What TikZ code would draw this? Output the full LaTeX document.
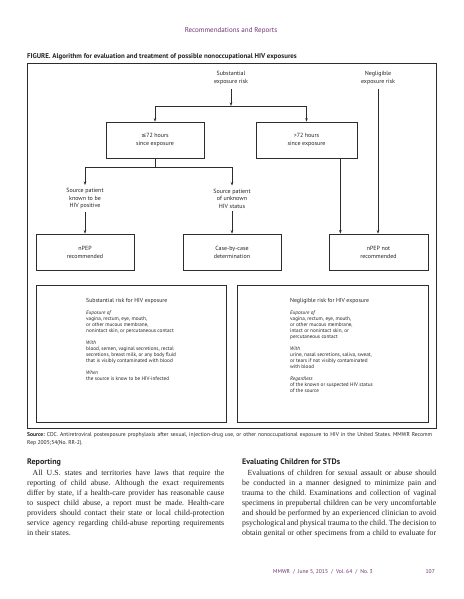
\documentclass[tikz,border=0pt]{standalone}
\usepackage{fontspec}
\setmainfont{Liberation Serif}
\newfontfamily\dsans{PT Sans}
\newfontfamily\djv{DejaVu Sans}
\usetikzlibrary{arrows.meta}
\definecolor{hdr}{RGB}{112,52,112}
\definecolor{ink}{RGB}{35,35,35}
\definecolor{lnc}{RGB}{45,45,45}
\frenchspacing
\begin{document}
\begin{tikzpicture}[x=1pt,y=-1pt,
  every node/.style={inner sep=0pt, text=ink},
  lbl/.style={font=\dsans\fontsize{6}{8}\selectfont, align=center, inner sep=2pt},
  srcp/.style={font=\dsans\fontsize{6}{7.5}\selectfont, align=center, inner sep=3pt},
  boxst/.style={draw=lnc, line width=0.7pt, minimum width=98pt, minimum height=36pt,
    font=\dsans\fontsize{6}{8}\selectfont, align=center},
  bigbox/.style={draw=lnc, line width=0.7pt},
  frm/.style={draw=lnc, line width=0.9pt},
  btext/.style={font=\dsans\fontsize{5.2}{6}\selectfont, align=left, anchor=north west},
  arr/.style={draw=lnc, line width=0.6pt, -{Stealth[length=3.6pt,width=2.6pt]}},
  ln/.style={draw=lnc, line width=0.6pt},
  body/.style={font=\fontsize{7.8}{10}\selectfont, anchor=north west, align=left},
  head/.style={font=\dsans\bfseries\fontsize{8}{10}\selectfont, anchor=base west}
]
\useasboundingbox (0,0) rectangle (463,599);
\fill[white] (0,0) rectangle (463,599);

% page header
\node[anchor=base, text=hdr, font=\dsans\fontsize{7}{8}\selectfont] (hd) at (231,32.5) {Recommendations and Reports};
\node[anchor=base west, font=\dsans\bfseries\fontsize{6.9}{8}\selectfont] (ttl) at (27,59)
  {FIGURE. Algorithm for evaluation and treatment of possible nonoccupational HIV exposures};

% frame
\draw[frm] (27,63) rectangle (436,428);

% flowchart
\node[lbl] (subst) at (231,78) {Substantial\\exposure risk};
\node[lbl] (negl) at (378,78) {Negligible\\exposure risk};
\node[boxst] (lt) at (155,140) {{\djv ≤}72 hours\\since exposure};
\node[boxst, minimum width=101pt] (gt) at (306.5,140) {>72 hours\\since exposure};
\node[srcp] (spk) at (85,198.5) {Source patient\\known to be\\HIV positive};
\node[srcp] (spu) at (232,198.5) {Source patient\\of unknown\\HIV status};
\node[boxst] (nrec) at (85,252) {nPEP\\recommended};
\node[boxst] (cbc) at (232,252) {Case-by-case\\determination};
\node[boxst, minimum width=99pt] (npn) at (378.5,252) {nPEP not\\recommended};

\coordinate (j1) at (231,106);
\coordinate (j2) at (155,167);
\coordinate (gtout) at ([xshift=-17pt]gt.south east);

\draw[arr, shorten <=2pt] (subst) -- (j1);
\draw[arr] (j1) -| (lt.north);
\draw[arr] (j1) -| (gt.north);
\draw[ln] (lt) -- (j2);
\draw[arr] (j2) -| (spk.north);
\draw[arr] (j2) -| (spu.north);
\draw[arr] (spk) -- (nrec);
\draw[arr] (spu) -- (cbc);
\draw[arr] (gtout) -- (gtout |- npn.north);
\draw[arr, shorten <=2pt] (negl.south) -- (negl.south |- npn.north);

% lower explanation boxes
\draw[bigbox] (36,285) rectangle (226,422);
\draw[bigbox] (237,285) rectangle (428,422);
\node[btext] (lbt) at (86,298.5) {{\fontsize{5.8}{6}\selectfont Substantial risk for HIV exposure}\\[6pt]
\textit{Exposure of}\\
vagina, rectum, eye, mouth,\\
or other mucous membrane,\\
nonintact skin, or percutaneous contact\\[6pt]
\textit{With}\\
blood, semen, vaginal secretions, rectal\\
secretions, breast milk, or any body fluid\\
that is visibly contaminated with blood\\[6pt]
\textit{When}\\
the source is know to be HIV-infected};
\node[btext] (rbt) at (290,298.5) {{\fontsize{5.8}{6}\selectfont Negligible risk for HIV exposure}\\[6pt]
\textit{Exposure of}\\
vagina, rectum, eye, mouth,\\
or other mucous membrane,\\
intact or nonintact skin, or\\
percutaneous contact\\[6pt]
\textit{With}\\
urine, nasal secretions, saliva, sweat,\\
or tears if not visibly contaminated\\
with blood\\[6pt]
\textit{Regardless}\\
of the known or suspected HIV status\\
of the source};

% source
\node[anchor=base west, font=\dsans\fontsize{5.6}{8}\selectfont] (src1) at (27,436.5)
  {\makebox[405pt][s]{\textbf{Source:} CDC. Antiretroviral postexposure prophylaxis after sexual, injection-drug use, or other nonoccupational exposure to HIV in the United States. MMWR Recomm}};
\node[anchor=base west, font=\dsans\fontsize{5.6}{8}\selectfont] (src2) at (27,444)
  {Rep 2005;54(No. RR-2).};

% body text
\node[head] (h1) at (27,464) {Reporting};
\node[head] (h2) at (242,464) {Evaluating Children for STDs};
\node[body] (b1) at (27,469.5) {%
\hspace*{5.5pt}\makebox[191.5pt][s]{All U.S. states and territories have laws that require the}\\
\makebox[197pt][s]{reporting of child abuse. Although the exact requirements}\\
\makebox[197pt][s]{differ by state, if a health-care provider has reasonable cause}\\
\makebox[197pt][s]{to suspect child abuse, a report must be made. Health-care}\\
\makebox[197pt][s]{providers should contact their state or local child-protection}\\
\makebox[197pt][s]{service agency regarding child-abuse reporting requirements}\\
in their states.};
\node[body] (b2) at (242,469.5) {%
\hspace*{5.5pt}\makebox[188.5pt][s]{Evaluations of children for sexual assault or abuse should}\\
\makebox[194pt][s]{be conducted in a manner designed to minimize pain and}\\
\makebox[194pt][s]{trauma to the child. Examinations and collection of vaginal}\\
\makebox[194pt][s]{specimens in prepubertal children can be very uncomfortable}\\
\makebox[194pt][s]{and should be performed by an experienced clinician to avoid}\\
\makebox[194pt][s]{psychological and physical trauma to the child. The decision to}\\
\makebox[194pt][s]{obtain genital or other specimens from a child to evaluate for}};

% footer
\node[anchor=base west, text=hdr, font=\dsans\fontsize{5.6}{8}\selectfont] (ft) at (273,573)
  {MMWR \ / \ June 5, 2015 \ / \ Vol. 64 \ / \ No. 3};
\node[anchor=base east, text=hdr, font=\dsans\fontsize{5.6}{8}\selectfont] (pg) at (435,573) {107};
\end{tikzpicture}
\end{document}
